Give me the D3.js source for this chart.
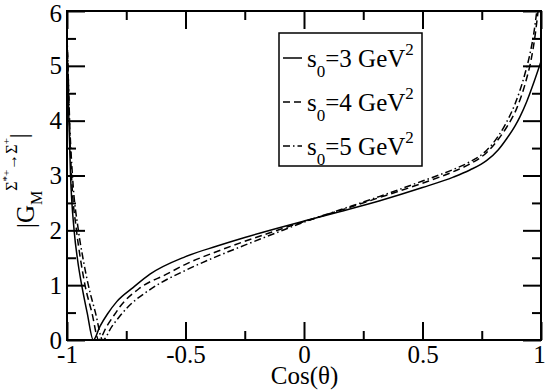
<!DOCTYPE html>
<html><head><meta charset="utf-8">
<script src="https://cdn.jsdelivr.net/npm/d3@7"></script>
<style>
body{margin:0;background:#fff}
svg{display:block}
</style>
</head><body>
<svg id="chart" width="545" height="392"></svg>
<script>
// ---- data ----
const xTicks = [-1, -0.5, 0, 0.5, 1];
const xTickLabels = ["-1", "-0.5", "0", "0.5", "1"];
const xMinorTicks = [-0.75, -0.25, 0.25, 0.75];
const yTicks = [0, 1, 2, 3, 4, 5, 6];
const yTickLabels = ["0", "1", "2", "3", "4", "5", "6"];
const yMinorTicks = [0.5, 1.5, 2.5, 3.5, 4.5, 5.5];

const seriesS0 = ["3", "4", "5"];

// s0 = 3 GeV^2 (solid)
const cosS3 = [-1, -0.997, -0.992, -0.985, -0.970, -0.955, -0.938, -0.915, -0.889, -0.861, -0.83, -0.79, -0.72, -0.65, -0.5, -0.37, -0.25, -0.12, 0, 0.15, 0.32, 0.5, 0.63, 0.7, 0.77, 0.82, 0.855, 0.89, 0.911, 0.94, 0.97, 1.0];
const gS3   = [5.35, 5.0, 4.0, 3.0, 2.0, 1.45, 1.0, 0.5, 0.0, 0.25, 0.47, 0.70, 0.96, 1.2, 1.52, 1.71, 1.87, 2.03, 2.17, 2.34, 2.54, 2.78, 2.97, 3.1, 3.27, 3.47, 3.67, 3.9, 4.07, 4.35, 4.7, 5.08];

// s0 = 4 GeV^2 (dashed)
const cosS4 = [-1, -0.996, -0.99, -0.981, -0.96, -0.944, -0.924, -0.895, -0.866, -0.833, -0.80, -0.776, -0.692, -0.58, -0.5, -0.37, -0.25, -0.12, 0, 0.15, 0.32, 0.5, 0.63, 0.7, 0.771, 0.82, 0.855, 0.897, 0.935, 0.96, 0.975, 0.985, 1.0];
const gS4   = [5.45, 5.0, 4.0, 3.0, 2.0, 1.5, 1.0, 0.5, 0.0, 0.245, 0.46, 0.61, 0.95, 1.2, 1.38, 1.61, 1.8, 1.99, 2.16, 2.36, 2.6, 2.86, 3.07, 3.21, 3.42, 3.66, 3.88, 4.22, 4.7, 5.15, 5.55, 5.9, 6.5];

// s0 = 5 GeV^2 (dash-dot)
const cosS5 = [-1, -0.996, -0.989, -0.977, -0.952, -0.933, -0.91, -0.88, -0.849, -0.811, -0.78, -0.748, -0.65, -0.5, -0.37, -0.25, -0.12, 0, 0.15, 0.32, 0.5, 0.63, 0.7, 0.771, 0.82, 0.848, 0.89, 0.93, 0.955, 0.97, 0.98, 1.0];
const gS5   = [5.55, 5.0, 4.0, 3.0, 2.0, 1.5, 1.0, 0.5, 0.0, 0.245, 0.42, 0.58, 0.92, 1.27, 1.52, 1.73, 1.95, 2.15, 2.37, 2.62, 2.9, 3.11, 3.25, 3.46, 3.72, 3.92, 4.3, 4.82, 5.25, 5.6, 5.92, 6.6];

// ---- layout ----
const W = 545, H = 392;
const m = {left: 67, right: 4, top: 11, bottom: 52};
const pw = W - m.left - m.right, ph = H - m.top - m.bottom;
const FONT = "'Liberation Serif'";

const svg = d3.select("#chart");
const x = d3.scaleLinear().domain([-1, 1]).range([0, pw]);
const y = d3.scaleLinear().domain([0, 6]).range([ph, 0]);

const g = svg.append("g").attr("transform", `translate(${m.left},${m.top})`);

svg.append("defs").append("clipPath").attr("id", "clip")
  .append("rect").attr("width", pw).attr("height", ph);

// axes (inward ticks)
function styleAxis(sel) {
  sel.select(".domain").remove();
  sel.selectAll(".tick line").attr("stroke", "#000").attr("stroke-width", 2);
  sel.selectAll(".tick text")
    .style("font-family", FONT)
    .style("font-size", "25px").attr("fill", "#000");
}
const xAxisG = g.append("g").attr("transform", `translate(0,${ph})`)
  .call(d3.axisBottom(x).tickValues(xTicks).tickFormat((d, i) => xTickLabels[i]).tickSizeInner(-18).tickSizeOuter(0).tickPadding(5))
  .call(styleAxis);
xAxisG.selectAll(".tick text").filter(d => d === 1).attr("dx", -2);
g.append("g").attr("transform", `translate(0,${ph})`)
  .call(d3.axisBottom(x).tickValues(xMinorTicks).tickFormat("").tickSizeInner(-9).tickSizeOuter(0))
  .call(styleAxis);
g.append("g")
  .call(d3.axisTop(x).tickValues(xTicks).tickFormat("").tickSizeInner(-18).tickSizeOuter(0))
  .call(styleAxis);
g.append("g")
  .call(d3.axisTop(x).tickValues(xMinorTicks).tickFormat("").tickSizeInner(-9).tickSizeOuter(0))
  .call(styleAxis);
const yAxisG = g.append("g")
  .call(d3.axisLeft(y).tickValues(yTicks).tickFormat((d, i) => yTickLabels[i]).tickSizeInner(-18).tickSizeOuter(0).tickPadding(5))
  .call(styleAxis);
yAxisG.selectAll(".tick text").filter(d => d === 6).attr("dy", "0.42em");
g.append("g")
  .call(d3.axisLeft(y).tickValues(yMinorTicks).tickFormat("").tickSizeInner(-9).tickSizeOuter(0))
  .call(styleAxis);
g.append("g").attr("transform", `translate(${pw},0)`)
  .call(d3.axisRight(y).tickValues(yTicks).tickFormat("").tickSizeInner(-18).tickSizeOuter(0))
  .call(styleAxis);
g.append("g").attr("transform", `translate(${pw},0)`)
  .call(d3.axisRight(y).tickValues(yMinorTicks).tickFormat("").tickSizeInner(-9).tickSizeOuter(0))
  .call(styleAxis);

// curves
const dashes = [null, "7,4", "7,3,1.5,3"];
const series = [
  {xs: cosS3, ys: gS3},
  {xs: cosS4, ys: gS4},
  {xs: cosS5, ys: gS5}
];
const line = d3.line().x(d => x(d[0])).y(d => y(d[1])).curve(d3.curveMonotoneX);
const curves = g.append("g").attr("clip-path", "url(#clip)");
series.forEach((s, i) => {
  const pts = s.xs.map((v, k) => [v, s.ys[k]]);
  curves.append("path").datum(pts)
    .attr("d", line)
    .attr("fill", "none")
    .attr("stroke", "#000")
    .attr("stroke-width", 1.5)
    .attr("stroke-dasharray", dashes[i]);
});

// frame
g.append("rect").attr("width", pw).attr("height", ph)
  .attr("fill", "none").attr("stroke", "#000").attr("stroke-width", 2);

// x label
svg.append("text").attr("x", m.left + pw / 2 + 0.5).attr("y", 384)
  .style("font-family", FONT)
  .attr("text-anchor", "middle").style("font-size", "25px").text("Cos(θ)");

// y label
const yl = svg.append("text")
  .style("font-family", FONT)
  .attr("transform", "rotate(-90)")
  .attr("x", -228).attr("y", 34)
  .attr("text-anchor", "start")
  .style("font-size", "25px");
yl.append("tspan").text("|G");
yl.append("tspan").attr("dy", 8).style("font-size", "16px").text("M");
yl.append("tspan").attr("dy", -25).style("font-size", "16px").text("Σ");
yl.append("tspan").attr("dy", -7).style("font-size", "11px").text("*+");
yl.append("tspan").attr("dy", 7).style("font-size", "16px").text("→Σ");
yl.append("tspan").attr("dy", -7).style("font-size", "11px").text("+");
yl.append("tspan").attr("dy", 17).text("|");

// legend
const lg = svg.append("g");
lg.append("rect").attr("x", 279).attr("y", 33).attr("width", 143).attr("height", 133)
  .attr("fill", "#fff").attr("stroke", "#000").attr("stroke-width", 1.5);
seriesS0.forEach((s, i) => {
  const by = 67 + i * 44;
  lg.append("line").attr("x1", 283).attr("x2", 302).attr("y1", by - 9).attr("y2", by - 9)
    .attr("stroke", "#000").attr("stroke-width", 1.5).attr("stroke-dasharray", dashes[i]);
  const t = lg.append("text").attr("x", 307).attr("y", by)
    .style("font-family", FONT).style("font-size", "25px");
  t.append("tspan").text("s");
  t.append("tspan").attr("dy", 10).style("font-size", "17px").text("0");
  t.append("tspan").attr("dy", -10).text("=" + s + " GeV");
  t.append("tspan").attr("dy", -12).style("font-size", "17px").text("2");
});
</script>
</body></html>
